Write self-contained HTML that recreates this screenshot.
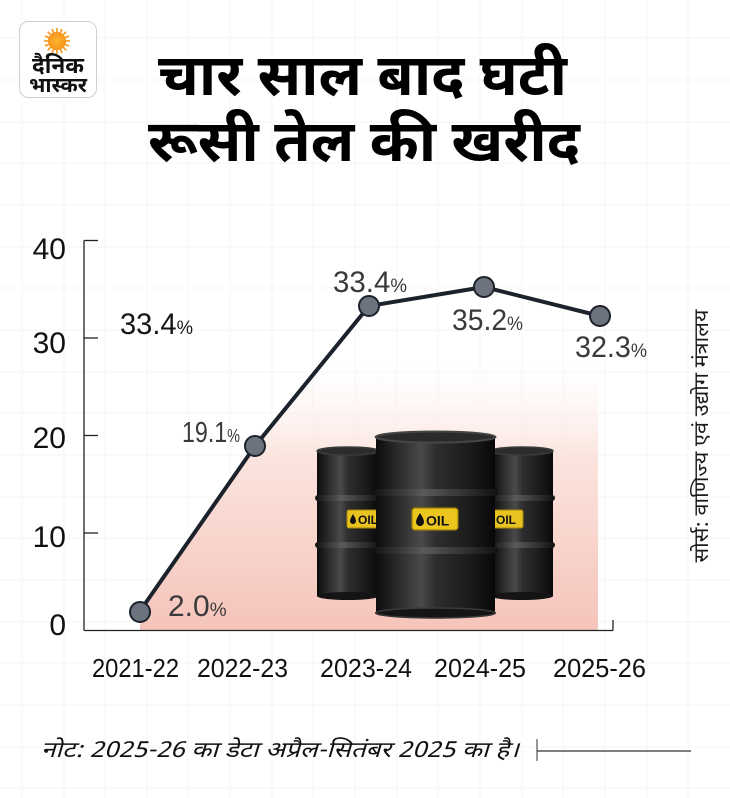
<!DOCTYPE html>
<html><head><meta charset="utf-8">
<style>
html,body{margin:0;padding:0;background:#fff;}
svg{display:block;}
.dev{font-family:"Noto Sans Devanagari","Lohit Devanagari","Mukta","Mangal","Liberation Sans","Noto Sans CJK SC",sans-serif;}
.lat{font-family:"Liberation Sans","DejaVu Sans",sans-serif;}
</style></head>
<body>
<svg width="730" height="798" viewBox="0 0 730 798" xmlns="http://www.w3.org/2000/svg">
<defs>
  <linearGradient id="pinkg" x1="0" y1="365" x2="0" y2="630" gradientUnits="userSpaceOnUse">
    <stop offset="0" stop-color="#fdf3f0" stop-opacity="0"/>
    <stop offset="0.35" stop-color="#fbe4de"/>
    <stop offset="1" stop-color="#f5c4ba"/>
  </linearGradient>
  <linearGradient id="barrel" x1="0" y1="0" x2="1" y2="0">
    <stop offset="0" stop-color="#0c0c0c"/>
    <stop offset="0.18" stop-color="#2a2a2a"/>
    <stop offset="0.38" stop-color="#4a4a4a"/>
    <stop offset="0.5" stop-color="#2e2e2e"/>
    <stop offset="0.8" stop-color="#1a1a1a"/>
    <stop offset="1" stop-color="#080808"/>
  </linearGradient>
  <linearGradient id="rib" x1="0" y1="0" x2="1" y2="0">
    <stop offset="0" stop-color="#111"/>
    <stop offset="0.4" stop-color="#5a5a5a"/>
    <stop offset="1" stop-color="#111"/>
  </linearGradient>
  <radialGradient id="sun" cx="0.5" cy="0.5" r="0.5">
    <stop offset="0" stop-color="#ffb52e"/>
    <stop offset="1" stop-color="#f7941d"/>
  </radialGradient>
</defs>

<!-- faint background grid -->
<g stroke="#f6f6f6" stroke-width="1">
  <line x1="22" y1="0" x2="22" y2="798"/><line x1="64" y1="0" x2="64" y2="798"/>
  <line x1="105" y1="0" x2="105" y2="798"/><line x1="147" y1="0" x2="147" y2="798"/>
  <line x1="188" y1="0" x2="188" y2="798"/><line x1="230" y1="0" x2="230" y2="798"/>
  <line x1="272" y1="0" x2="272" y2="798"/><line x1="313" y1="0" x2="313" y2="798"/>
  <line x1="355" y1="0" x2="355" y2="798"/><line x1="397" y1="0" x2="397" y2="798"/>
  <line x1="438" y1="0" x2="438" y2="798"/><line x1="480" y1="0" x2="480" y2="798"/>
  <line x1="522" y1="0" x2="522" y2="798"/><line x1="563" y1="0" x2="563" y2="798"/>
  <line x1="605" y1="0" x2="605" y2="798"/><line x1="647" y1="0" x2="647" y2="798"/>
  <line x1="688" y1="0" x2="688" y2="798"/>
  <line x1="0" y1="38" x2="730" y2="38"/><line x1="0" y1="80" x2="730" y2="80"/>
  <line x1="0" y1="122" x2="730" y2="122"/><line x1="0" y1="163" x2="730" y2="163"/>
  <line x1="0" y1="205" x2="730" y2="205"/><line x1="0" y1="247" x2="730" y2="247"/>
  <line x1="0" y1="288" x2="730" y2="288"/><line x1="0" y1="330" x2="730" y2="330"/>
  <line x1="0" y1="372" x2="730" y2="372"/><line x1="0" y1="413" x2="730" y2="413"/>
  <line x1="0" y1="455" x2="730" y2="455"/><line x1="0" y1="497" x2="730" y2="497"/>
  <line x1="0" y1="538" x2="730" y2="538"/><line x1="0" y1="580" x2="730" y2="580"/>
  <line x1="0" y1="622" x2="730" y2="622"/><line x1="0" y1="663" x2="730" y2="663"/>
  <line x1="0" y1="705" x2="730" y2="705"/><line x1="0" y1="747" x2="730" y2="747"/>
  <line x1="0" y1="788" x2="730" y2="788"/>
</g>

<!-- logo -->
<rect x="19.5" y="21.5" width="77" height="76" rx="9" fill="#fff" stroke="#cfcfcf" stroke-width="1"/>
<g>
  <g stroke="#f9a12a" stroke-width="1.8">
    <line x1="57" y1="28" x2="57" y2="54"/><line x1="44" y1="41" x2="70" y2="41"/>
    <line x1="47.8" y1="31.8" x2="66.2" y2="50.2"/><line x1="66.2" y1="31.8" x2="47.8" y2="50.2"/>
    <line x1="52" y1="29" x2="62" y2="53"/><line x1="62" y1="29" x2="52" y2="53"/>
    <line x1="45" y1="36" x2="69" y2="46"/><line x1="69" y1="36" x2="45" y2="46"/>
  </g>
  <circle cx="57" cy="41" r="9" fill="url(#sun)"/>
</g>
<text class="dev" x="58" y="73" font-size="22" font-weight="700" fill="#111" text-anchor="middle" textLength="52" lengthAdjust="spacingAndGlyphs">दैनिक</text>
<text class="dev" x="58" y="92" font-size="21" font-weight="700" fill="#111" text-anchor="middle" textLength="58" lengthAdjust="spacingAndGlyphs">भास्कर</text>

<!-- title -->
<text class="dev" x="158" y="95" font-size="58" font-weight="700" fill="#000" textLength="409" lengthAdjust="spacingAndGlyphs">चार साल बाद घटी</text>
<text class="dev" x="148" y="161" font-size="58" font-weight="700" fill="#000" textLength="432" lengthAdjust="spacingAndGlyphs">रूसी तेल की खरीद</text>

<!-- pink area -->
<polygon points="140,611 255,446 369,305 484,287 598,315 598,630 140,630" fill="url(#pinkg)"/>

<!-- barrels: left -->
<g>
  <rect x="317" y="450" width="62" height="146" fill="url(#barrel)"/>
  <ellipse cx="348" cy="596" rx="31" ry="4" fill="#141414"/>
  <ellipse cx="348" cy="451" rx="31" ry="4" fill="#2c2c2c" stroke="#3b3b3b" stroke-width="1.5"/>
  <rect x="315" y="495" width="66" height="6" rx="3" fill="url(#rib)"/>
  <rect x="315" y="542" width="66" height="6" rx="3" fill="url(#rib)"/>
  <rect x="347" y="510" width="32" height="18" rx="2" fill="#e8c21e" stroke="#a8870a" stroke-width="1"/>
  <path d="M353 514 q3 5 3 7 a3 3 0 0 1 -6 0 q0 -2 3 -7z" fill="#111"/>
  <text class="lat" x="358" y="524" font-size="12" font-weight="700" fill="#111">OIL</text>
</g>
<!-- right -->
<g>
  <rect x="492" y="450" width="61" height="146" fill="url(#barrel)"/>
  <ellipse cx="522" cy="596" rx="31" ry="4" fill="#141414"/>
  <ellipse cx="522" cy="451" rx="31" ry="4" fill="#2c2c2c" stroke="#3b3b3b" stroke-width="1.5"/>
  <rect x="490" y="495" width="65" height="6" rx="3" fill="url(#rib)"/>
  <rect x="490" y="542" width="65" height="6" rx="3" fill="url(#rib)"/>
  <rect x="492" y="510" width="31" height="18" rx="2" fill="#e8c21e" stroke="#a8870a" stroke-width="1"/>
  <text class="lat" x="496" y="524" font-size="12" font-weight="700" fill="#111">OIL</text>
</g>
<!-- middle -->
<g>
  <rect x="376" y="436" width="119" height="177" fill="url(#barrel)"/>
  <ellipse cx="435.5" cy="613" rx="60" ry="5" fill="#151515" stroke="#3a3a3a" stroke-width="1.5"/>
  <ellipse cx="435.5" cy="437" rx="60" ry="5.5" fill="#2a2a2a" stroke="#464646" stroke-width="2"/>
  <rect x="373" y="489" width="125" height="7" rx="3.5" fill="url(#rib)"/>
  <rect x="373" y="547" width="125" height="7" rx="3.5" fill="url(#rib)"/>
  <rect x="412" y="508" width="46" height="22" rx="3" fill="#ecc61f" stroke="#9c7e08" stroke-width="1.2"/>
  <path d="M420 513 q4 6 4 9 a4 4 0 0 1 -8 0 q0 -3 4 -9z" fill="#111"/>
  <text class="lat" x="426" y="525.5" font-size="14" font-weight="700" fill="#111">OIL</text>
</g>

<!-- axes -->
<g stroke="#222" stroke-width="1.3" fill="none">
  <line x1="84" y1="240.5" x2="84" y2="630.5"/>
  <line x1="84" y1="630.5" x2="613" y2="630.5"/>
  <line x1="613" y1="620" x2="613" y2="630.5"/>
  <line x1="84" y1="240.5" x2="98" y2="240.5"/>
  <line x1="84" y1="338" x2="98" y2="338"/>
  <line x1="84" y1="435.5" x2="98" y2="435.5"/>
  <line x1="84" y1="533" x2="98" y2="533"/>
</g>
<g class="lat" font-size="30" fill="#111" text-anchor="end">
  <text x="66" y="259">40</text>
  <text x="66" y="353">30</text>
  <text x="66" y="448">20</text>
  <text x="66" y="547">10</text>
  <text x="66" y="635">0</text>
</g>

<!-- line -->
<polyline points="140,611 255,446 369,306 484,287 600,316" fill="none" stroke="#1c222c" stroke-width="4" stroke-linejoin="round"/>
<g fill="#6c737e" stroke="#1c222c" stroke-width="2">
  <circle cx="140" cy="612" r="10"/>
  <circle cx="255" cy="446" r="10"/>
  <circle cx="369" cy="306" r="10"/>
  <circle cx="484" cy="287" r="10"/>
  <circle cx="600" cy="316" r="10"/>
</g>

<!-- data labels -->
<g class="lat" fill="#3a3a3a">
  <text x="120" y="334" fill="#161616" font-size="30" textLength="73" lengthAdjust="spacingAndGlyphs">33.4<tspan font-size="19">%</tspan></text>
  <text x="182" y="442" font-size="29" textLength="58" lengthAdjust="spacingAndGlyphs">19.1<tspan font-size="18">%</tspan></text>
  <text x="168" y="616" font-size="30">2.0<tspan font-size="19">%</tspan></text>
  <text x="333" y="292" font-size="30" textLength="74" lengthAdjust="spacingAndGlyphs">33.4<tspan font-size="19">%</tspan></text>
  <text x="452" y="330" font-size="30" textLength="71" lengthAdjust="spacingAndGlyphs">35.2<tspan font-size="19">%</tspan></text>
  <text x="575" y="357" font-size="30" textLength="72" lengthAdjust="spacingAndGlyphs">32.3<tspan font-size="19">%</tspan></text>
</g>

<!-- x labels -->
<g class="lat" font-size="26" fill="#111">
  <text x="92" y="677" textLength="87" lengthAdjust="spacingAndGlyphs">2021-22</text>
  <text x="197" y="677" textLength="91" lengthAdjust="spacingAndGlyphs">2022-23</text>
  <text x="320" y="677" textLength="92" lengthAdjust="spacingAndGlyphs">2023-24</text>
  <text x="434" y="677" textLength="92" lengthAdjust="spacingAndGlyphs">2024-25</text>
  <text x="553" y="677" textLength="93" lengthAdjust="spacingAndGlyphs">2025-26</text>
</g>

<!-- source (vertical) -->
<text class="dev" transform="translate(708,436) rotate(-90)" x="0" y="0" font-size="20" fill="#1a1a1a" text-anchor="middle" textLength="253" lengthAdjust="spacingAndGlyphs">सोर्स: वाणिज्य एवं उद्योग मंत्रालय</text>

<!-- note -->
<text class="dev" x="41" y="757" font-size="22" font-style="italic" fill="#111" textLength="478" lengthAdjust="spacingAndGlyphs">नोट: 2025-26 का डेटा अप्रैल-सितंबर 2025 का है।</text>
<line x1="537" y1="739" x2="537" y2="761" stroke="#555" stroke-width="1.2"/>
<line x1="537" y1="751" x2="691" y2="751" stroke="#333" stroke-width="1.2"/>
</svg>
</body></html>
